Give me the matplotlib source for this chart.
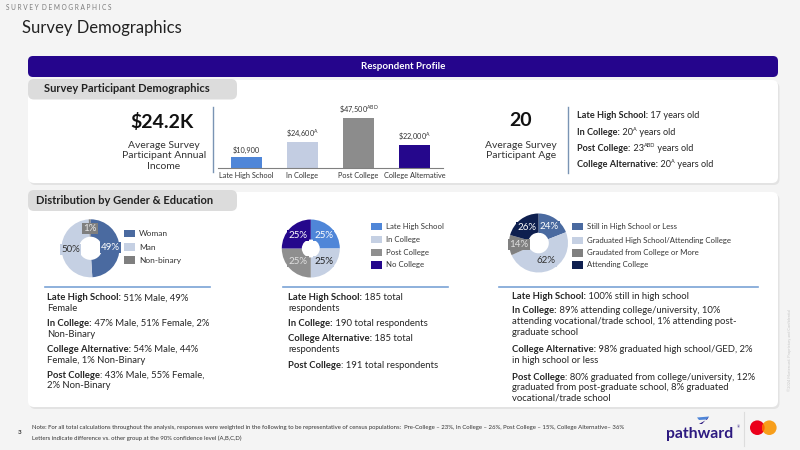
import matplotlib
matplotlib.use('Agg')
import matplotlib.pyplot as plt
from matplotlib.patches import FancyBboxPatch, Rectangle, Circle, Polygon

plt.rcParams['font.family'] = ['Lato', 'DejaVu Sans']
plt.rcParams['mathtext.fontset'] = 'custom'
plt.rcParams['mathtext.rm'] = 'Lato'
plt.rcParams['mathtext.bf'] = 'Lato:bold'

# ---------------- data ----------------
income_groups = ['Late High School', 'In College', 'Post College', 'College Alternative']
income_values = [10900, 24600, 47500, 22000]
income_sig = ['', 'A', 'ABD', 'A']
income_colors = ['#4f86d8', '#c3cde2', '#8c8c8c', '#25078c']
avg_income_label = '$24.2K'
avg_income_caption = 'Average Survey\nParticipant Annual\nIncome'

avg_age_label = '20'
avg_age_caption = 'Average Survey\nParticipant Age'
age_groups = ['Late High School', 'In College', 'Post College', 'College Alternative']
age_values = [17, 20, 23, 20]
age_sig = ['', 'A', 'ABD', 'A']

gender_labels = ['Woman', 'Man', 'Non-binary']
gender_values = [49, 50, 1]
gender_colors = ['#4a6aa0', '#c5d0e3', '#7f7f7f']
gender_text_colors = ['#ffffff', '#333333', '#e8e8e8']

edu_labels = ['Late High School', 'In College', 'Post College', 'No College']
edu_values = [25, 25, 25, 25]
edu_colors = ['#4f86d8', '#c5d0e3', '#8f8f8f', '#25078c']
edu_text_colors = ['#ffffff', '#222222', '#e0e0e0', '#ffffff']

status_labels = ['Still in High School or Less', 'Graduated High School/Attending College',
                 'Graudated from College or More', 'Attending College']
status_values = [24, 62, 14, 26]
status_colors = ['#4a6aa0', '#c5d0e3', '#808080', '#0e1f4f']
status_text_colors = ['#ffffff', '#333333', '#e0e0e0', '#ffffff']

gender_notes = [
    [('Late High School:', 'b'), (' 51% Male, 49%', 'n')],
    [('Female', 'n')],
    [('In College:', 'b'), (' 47% Male, 51% Female, 2%', 'n')],
    [('Non-Binary', 'n')],
    [('College Alternative:', 'b'), (' 54% Male, 44%', 'n')],
    [('Female, 1% Non-Binary', 'n')],
    [('Post College', 'b'), (': 43% Male, 55% Female,', 'n')],
    [('2% Non-Binary', 'n')],
]
respondent_notes = [
    [('Late High School:', 'b'), (' 185 total', 'n')],
    [('respondents', 'n')],
    [('In College:', 'b'), (' 190 total respondents', 'n')],
    [('College Alternative:', 'b'), (' 185 total', 'n')],
    [('respondents', 'n')],
    [('Post College', 'b'), (': 191 total respondents', 'n')],
]
status_notes = [
    [('Late High School:', 'b'), (' 100% still in high school', 'n')],
    [('In College:', 'b'), (' 89% attending college/university, 10%', 'n')],
    [('attending vocational/trade school, 1% attending post-', 'n')],
    [('graduate school', 'n')],
    [('College Alternative:', 'b'), (' 98% graduated high school/GED, 2%', 'n')],
    [('in high school or less', 'n')],
    [('Post College', 'b'), (': 80% graduated from college/university, 12%', 'n')],
    [('graduated from post-graduate school, 8% graduated', 'n')],
    [('vocational/trade school', 'n')],
]
footnote_1 = ('Note: For all total calculations throughout the analysis, responses were weighted in the following '
              'to be representative of census populations:  Pre-College \u2013 23%, In College \u2013 26%, '
              'Post College \u2013 15%, College Alternative\u2013 36%')
footnote_2 = 'Letters indicate difference vs. other group at the 90% confidence level (A,B,C,D)'

# ---------------- canvas ----------------
W, H = 800, 450
fig = plt.figure(figsize=(8, 4.5), dpi=100)
fig.patch.set_facecolor('#f4f4f4')
ax = fig.add_axes([0, 0, 1, 1])
ax.set_xlim(0, W)
ax.set_ylim(H, 0)
ax.axis('off')
R = fig.canvas.get_renderer()


def rbox(x0, y0, x1, y1, fc, r=6, z=1, shadow=False):
    if shadow:
        ax.add_patch(FancyBboxPatch((x0 + 1.5, y0 + 2), x1 - x0, y1 - y0,
                                    boxstyle=f'round,pad=0,rounding_size={r}',
                                    fc='#e3e3e3', ec='none', zorder=z - 0.5))
    ax.add_patch(FancyBboxPatch((x0, y0), x1 - x0, y1 - y0,
                                boxstyle=f'round,pad=0,rounding_size={r}',
                                fc=fc, ec='none', zorder=z))


def tw(s, size, weight):
    t = ax.text(0, 0, '|' + s + '|', fontsize=size, fontweight=weight)
    w1 = t.get_window_extent(R).width
    t.set_text('||')
    w0 = t.get_window_extent(R).width
    t.remove()
    return w1 - w0


def rich(x, y, segs, size, color='#262626'):
    cx = x
    for s, st in segs:
        if st == 's':
            fs, wt, dy = size * 0.6, 'normal', -2.6
        else:
            fs, wt, dy = size, ('bold' if st == 'b' else 'normal'), 0
        ax.text(cx, y + dy, s, fontsize=fs, fontweight=wt, color=color,
                ha='left', va='center', zorder=5)
        cx += tw(s, fs, wt)


# header
ax.text(6, 7.5, '  '.join(' '.join(w) for w in 'SURVEY DEMOGRAPHICS'.split()),
        fontsize=4.7, color='#7a7a7a', va='center', ha='left')
ax.text(22, 28.5, 'Survey Demographics', fontsize=12, color='#222222', va='center', ha='left')

# panels
rbox(28, 80, 778, 183, 'white', r=6, z=1, shadow=True)
rbox(28, 192, 778, 407, 'white', r=6, z=1, shadow=True)
rbox(28, 56, 778, 77, '#25058c', r=5, z=2)
ax.text(403, 66.5, 'Respondent Profile', fontsize=7, fontweight='bold', color='white',
        ha='center', va='center', zorder=3)
rbox(28, 79, 237, 99.5, '#dcdcdc', r=6, z=2)
ax.text(43.5, 89, 'Survey Participant Demographics', fontsize=8, fontweight='bold',
        color='#222222', ha='left', va='center', zorder=3)
rbox(28, 190, 237, 211, '#dcdcdc', r=6, z=2)
ax.text(36, 200.5, 'Distribution by Gender & Education', fontsize=8, fontweight='bold',
        color='#222222', ha='left', va='center', zorder=3)

# big stats
ax.text(162, 121.5, '\\' + avg_income_label, fontsize=14, fontweight='bold', color='#111111',
        ha='center', va='center', zorder=3)
ax.text(164, 156, avg_income_caption, fontsize=7.5, color='#333333', ha='center', va='center',
        linespacing=1.15, zorder=3)
ax.plot([212.7, 212.7], [107, 172], color='#7a94b4', lw=1, zorder=3)

ax.text(520.7, 120.7, avg_age_label, fontsize=14, fontweight='bold', color='#111111',
        ha='center', va='center', zorder=3)
ax.text(520.7, 150.5, avg_age_caption, fontsize=7.5, color='#333333', ha='center', va='center',
        linespacing=1.15, zorder=3)
ax.plot([568.3, 568.3], [107, 172.5], color='#7a94b4', lw=1, zorder=3)

for yy, g, v, s in zip([116, 132.5, 148.5, 164.5], age_groups, age_values, age_sig):
    segs = [(g + ':', 'b'), (f' {v}', 'n')]
    if s:
        segs.append((s, 's'))
    segs.append((' years old', 'n'))
    rich(577.3, yy, segs, 6.6)

# bar chart
bx0, bx1, base, top = 218.3, 442.7, 168.3, 108.3
axb = fig.add_axes([bx0 / W, (H - base) / H, (bx1 - bx0) / W, (base - top) / H])
axb.patch.set_alpha(0)
xs = list(range(len(income_groups)))
axb.bar(xs, income_values, width=0.55, color=income_colors, zorder=2)
axb.set_xlim(-0.5, 3.5)
axb.set_ylim(0, 56400)
for sp in ['top', 'right', 'left']:
    axb.spines[sp].set_visible(False)
axb.spines['bottom'].set_color('#808080')
axb.spines['bottom'].set_linewidth(0.8)
axb.set_yticks([])
axb.set_xticks(xs, income_groups, fontsize=5.3, color='#333333')
axb.tick_params(axis='x', length=0, pad=3)
for i, v, s in zip(xs, income_values, income_sig):
    lab = '\\$' + f'{v:,}' + (('$^{\\mathrm{' + s + '}}$') if s else '')
    axb.annotate(lab, (i, v), xytext=(0, 2), textcoords='offset points', ha='center',
                 va='bottom', fontsize=5.3, color='#333333')


# donuts
def donut(cx, cy, r, vals, cols, tcols, width, pctd, fs=7):
    a = fig.add_axes([(cx - r) / W, (H - cy - r) / H, 2 * r / W, 2 * r / H])
    wedges, _, autos = a.pie(vals, colors=cols, startangle=90, counterclock=False,
                             wedgeprops=dict(width=width, linewidth=0),
                             autopct=lambda p: '', pctdistance=pctd, radius=1)
    a.set_xlim(-1, 1)
    a.set_ylim(-1, 1)
    for t, v, c, tc in zip(autos, vals, cols, tcols):
        t.set_text(f'{v}%')
        t.set_color(tc)
        t.set_fontsize(fs)
        t.set_bbox(dict(boxstyle='square,pad=0.12', fc=c, ec='none'))
    return a


donut(90.5, 248.3, 29, gender_values, gender_colors, gender_text_colors, 0.6, 0.68)
donut(310.8, 248.5, 29, edu_values, edu_colors, edu_text_colors, 0.69, 0.63)
donut(538.5, 243, 29.5, status_values, status_colors, status_text_colors, 0.65, 0.66)


def legend(x, ys, labels, cols, fs=5.6):
    for yy, lab, c in zip(ys, labels, cols):
        ax.add_patch(Rectangle((x, yy - 3.8), 10.7, 7.6, fc=c, ec='none', zorder=3))
        ax.text(x + 15, yy, lab, fontsize=fs, color='#333333', ha='left', va='center', zorder=3)


legend(124.3, [233.3, 247, 260], gender_labels, gender_colors, fs=6)
legend(371, [226.7, 239.7, 252.3, 265], edu_labels, edu_colors)
legend(572.3, [226.7, 240.3, 252.7, 265], status_labels, status_colors)

# separators
for x0, x1 in [(45, 210), (282.5, 448), (499, 758)]:
    ax.plot([x0, x1], [287, 287], color='#7aa3d6', lw=1.2, zorder=3)

# notes
for seg, yy in zip(gender_notes, [297.7, 308.2, 323.3, 334.2, 349.3, 360.2, 375, 386]):
    rich(47, yy, seg, 6.8)
for seg, yy in zip(respondent_notes, [297.7, 308.2, 324, 338.3, 349, 365.7]):
    rich(288, yy, seg, 6.8)
for seg, yy in zip(status_notes, [296.5, 310.7, 321.7, 332.7, 350, 360.7, 377, 388, 398.3]):
    rich(512, yy, seg, 6.8)

# footer
ax.text(32, 427, footnote_1, fontsize=4.3, color='#333333', ha='left', va='center')
ax.text(32, 438, footnote_2, fontsize=4.3, color='#333333', ha='left', va='center')
ax.text(20, 432.5, '3', fontsize=4.5, fontweight='bold', color='#333333', ha='center', va='center')
ax.text(790, 350, '\u00a92024 Mastercard. Proprietary and Confidential', fontsize=2.8,
        color='#c8c8c8', rotation=90, ha='center', va='center')

# logos
ax.text(666, 434, 'pathward', fontsize=11.3, fontweight='bold', color='#2d1a80',
        ha='left', va='center')
ax.text(736.5, 427, '\u00ae', fontsize=2.6, color='#2d1a80', ha='left', va='center')
ax.add_patch(Polygon([[697, 417.5], [709, 416.5], [707, 419.5], [699, 420]], fc='#4f86d8', ec='none'))
ax.add_patch(Polygon([[707, 419.5], [709, 416.5], [702, 424], [699, 424]], fc='#2d1a80', ec='none'))
ax.plot([744, 744], [412, 446], color='#dddddd', lw=0.8)
red = Circle((757.3, 427.7), 7.3, fc='#eb001b', ec='none')
org = Circle((769.3, 427.7), 7.3, fc='#f79e1b', ec='none')
ax.add_patch(red)
ax.add_patch(org)
mid = Circle((769.3, 427.7), 7.3, fc='#ff5f00', ec='none')
ax.add_patch(mid)
mid.set_clip_path(red)

fig.savefig('out.png', dpi=100, facecolor=fig.get_facecolor())
